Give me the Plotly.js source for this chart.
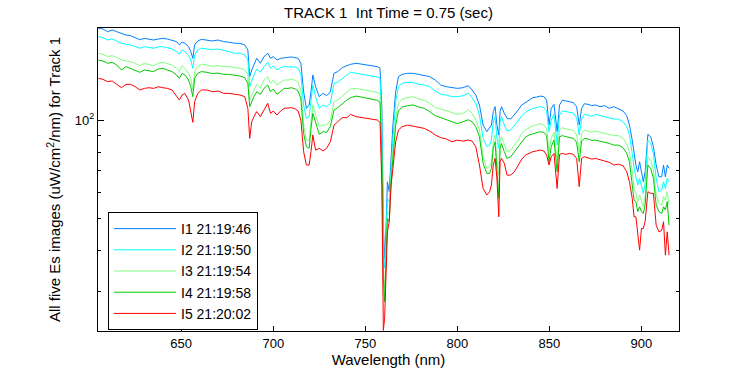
<!DOCTYPE html>
<html>
<head>
<meta charset="utf-8">
<script src="https://cdn.plot.ly/plotly-3.0.1.min.js"></script>
<style>html,body{margin:0;padding:0;background:#fff;}#chart{width:750px;height:375px;}</style>
</head>
<body>
<div id="chart"></div>
<script>
const wavelength = [
605,607.5,610,612.5,615,617.5,620,622.5,625,627.5,630,632.5,635,637.5,640,642.5,645,647.5,649,650.5,652,654,655.2,656.3,657.3,659,661,664,667,670,673,
676,679,682,684.5,686.2,687.2,688.3,689.5,691,693,695,697,698.5,700,702,704,706,708,710,712,713.5,715,716.5,718,719.5,720.5,721.5,723,725,727,729,731,733,735,737.5,740,742,
745,748,751,754,756.5,758,759,759.8,760.5,761.2,762,763,764,765,766.5,768,770,773,776,779,782,785,788,791,794,797,800,803,806,808,810,812,
814,816,817.5,818.5,819.5,820.5,821.5,822.5,823.2,824,825.5,827,829,831,833,835,837,839,841,843,845,847,848.5,849.8,851,852.5,854.2,855.5,857,859,861,863,864.8,866.2,867.5,869,871,873,
875,877.5,880,882.5,885,887.5,890,892,893.5,895,896,897,898,899,900,901,902,903.5,905,906.5,908,909.5,911,912,913,914,915
];

const I1 = [
191.1,190.2,186.6,188.8,186.6,184.4,182.3,181.4,178.9,176.4,178.1,177.2,176.0,177.2,178.1,177.2,176.0,174.0,170.0,173.2,172.0,168.0,162.2,154.7,170.0,174.8,176.8,176.0,174.8,176.0,174.0,
173.2,172.0,172.0,170.0,164.1,136.0,142.5,147.6,154.7,149.4,156.6,160.3,154.7,156.6,152.9,154.7,155.5,155.8,156.2,155.8,154.7,149.4,122.3,108.8,111.4,122.3,137.6,126.7,118.1,120.9,118.9,122.3,139.2,140.9,144.9,146.9,148.3,
149.4,148.3,147.6,146.9,145.9,144.2,108.8,47.8,37.8,45.6,64.9,60.5,76.5,96.7,122.3,136.0,138.2,139.2,139.2,138.2,137.6,136.0,132.8,128.2,126.7,125.8,125.2,125.8,127.6,123.8,119.5,111.4,
96.7,92.3,94.5,96.7,106.3,110.1,96.7,90.2,106.3,110.1,105.0,101.4,100.9,103.8,107.5,111.4,113.5,115.4,117.3,117.8,118.6,118.1,115.4,96.7,108.8,111.9,92.3,111.4,115.1,114.6,114.0,113.2,110.1,96.7,108.8,112.4,111.9,110.9,
111.4,110.1,110.9,108.8,110.1,108.3,106.8,103.3,96.7,87.0,78.3,73.0,69.6,74.7,69.6,64.9,69.6,90.6,89.1,83.1,73.0,67.2,67.2,73.0,67.2,73.0,71.3
];

const I2 = [
180.2,178.9,176.0,177.2,174.8,172.0,170.8,170.0,168.0,166.0,168.0,166.8,166.0,167.6,168.0,166.8,165.2,162.2,159.2,164.1,162.2,157.7,152.9,144.2,158.4,164.1,166.0,165.2,164.5,165.2,164.1,
162.2,160.3,160.3,158.4,152.9,126.7,132.8,137.6,143.5,140.2,145.9,150.4,144.2,146.9,142.5,144.9,145.9,145.9,146.2,145.5,144.2,138.2,111.4,101.4,102.6,114.0,128.2,118.1,108.8,111.4,110.1,112.7,129.7,130.7,134.4,137.6,140.2,
139.2,138.2,137.6,136.6,135.7,134.4,96.7,42.5,35.3,42.5,57.7,56.4,73.0,88.1,114.0,126.7,129.7,130.7,130.4,128.8,128.2,126.7,122.9,120.1,119.5,118.1,118.1,118.9,120.9,117.3,112.7,103.8,
88.1,83.1,84.0,87.0,99.0,102.6,88.1,82.1,99.0,102.6,96.7,92.7,93.4,96.3,99.5,103.3,105.8,107.5,108.8,109.3,110.1,109.3,106.8,92.3,100.2,104.3,84.0,103.8,106.8,106.3,105.8,105.3,101.9,90.2,100.9,104.3,103.8,102.8,
104.3,103.3,102.6,101.4,100.9,100.9,99.0,95.6,90.2,79.2,71.3,67.2,63.4,66.5,63.4,59.8,64.2,87.0,85.0,79.2,66.5,60.5,61.2,64.9,61.9,66.5,64.9
];

const I3 = [
160.3,159.2,156.6,157.7,155.5,152.9,151.8,151.1,149.4,146.9,149.4,148.3,146.9,149.4,150.4,149.0,147.6,144.2,140.9,146.9,144.2,139.2,134.4,123.8,140.9,145.9,148.3,147.6,146.2,146.9,145.9,
145.9,144.9,144.2,142.5,137.6,115.4,119.5,123.8,128.8,125.8,132.8,136.0,129.7,132.8,128.2,130.7,132.8,132.8,133.4,132.5,130.7,123.8,96.7,87.0,87.0,99.0,111.4,103.8,95.6,96.7,96.7,100.2,114.0,115.4,118.9,122.3,124.6,
125.2,124.3,123.5,122.9,121.7,120.1,80.2,36.1,30.6,37.8,52.6,51.3,68.0,80.2,101.4,112.7,116.2,117.3,118.1,116.2,115.1,112.7,109.3,108.3,106.8,105.8,104.3,105.0,107.5,105.0,100.2,93.4,
77.4,71.3,72.1,74.7,86.0,90.2,74.7,68.0,86.0,89.1,84.0,80.2,81.1,84.0,87.0,91.2,93.4,94.9,96.3,96.7,97.7,96.7,94.5,80.2,88.1,91.9,74.7,93.4,94.9,94.1,93.4,93.2,90.2,80.2,91.2,93.4,92.7,91.9,
92.7,91.9,91.0,90.2,89.8,89.8,88.1,85.0,80.2,69.6,61.9,59.8,56.4,59.1,56.4,54.4,58.4,77.4,75.6,70.5,59.1,55.7,55.1,58.4,57.0,60.5,55.1
];

const I4 = [
152.9,151.8,149.4,150.4,147.6,142.5,145.9,144.2,142.5,140.2,142.5,141.5,140.9,143.5,144.2,142.5,140.9,137.6,134.4,139.2,137.6,132.8,126.7,118.1,134.4,139.2,140.9,140.2,138.9,139.5,138.2,
138.2,137.6,136.6,135.0,129.7,110.1,114.0,118.1,122.3,120.1,125.2,128.2,122.3,124.6,120.1,122.9,125.2,125.2,125.8,124.6,122.9,116.2,91.2,83.1,82.1,94.5,105.0,98.6,90.6,92.3,91.9,95.6,107.5,109.3,112.7,115.4,117.3,
118.6,117.8,116.7,116.2,115.1,113.5,76.5,32.9,27.9,36.1,50.1,49.0,64.9,76.5,96.7,106.8,109.8,110.9,111.4,109.8,108.8,106.3,103.3,101.9,100.4,99.0,97.7,99.0,100.4,99.0,95.6,89.1,
73.9,68.8,68.8,71.3,82.1,86.0,71.3,57.7,82.1,85.0,80.2,76.5,77.4,80.2,83.1,86.4,88.9,90.2,91.0,91.9,92.3,91.9,89.8,74.7,83.1,87.0,69.6,89.1,89.8,89.1,88.5,88.1,85.6,74.7,86.4,88.1,87.7,86.8,
87.0,86.4,85.6,85.0,84.0,84.0,82.5,79.2,74.7,64.9,57.0,56.4,52.6,54.4,52.6,51.9,55.1,73.0,71.3,66.5,55.1,52.6,51.9,54.4,53.2,56.4,47.8
];

const I5 = [
134.4,133.4,131.3,131.9,128.8,125.8,128.8,128.8,126.7,123.8,125.2,125.8,125.2,126.7,125.8,125.2,123.8,118.1,115.4,119.5,120.9,115.4,107.5,98.6,114.0,120.9,123.8,123.8,122.3,122.9,120.9,
120.9,120.1,119.5,118.1,108.8,88.1,99.0,102.6,106.3,102.6,107.5,112.7,105.0,106.8,103.8,106.8,108.8,109.3,109.3,108.3,106.8,100.2,80.2,73.0,73.0,80.2,90.2,81.1,82.1,80.6,82.1,86.0,96.7,99.0,101.9,101.9,104.3,
102.6,101.9,101.4,100.9,100.2,98.6,63.4,22.8,24.8,32.9,45.6,49.0,63.4,71.3,86.0,93.4,95.6,96.7,95.8,95.4,94.5,92.7,90.2,88.5,87.7,86.0,87.0,86.4,87.0,86.4,83.1,73.0,
61.9,59.1,60.5,63.4,73.0,76.5,66.5,50.7,74.7,76.5,73.9,68.0,68.0,69.6,73.0,76.1,78.3,79.2,80.2,80.6,81.1,80.6,78.3,73.0,77.4,79.2,61.9,78.7,79.2,78.7,79.2,78.7,76.5,62.7,76.5,77.4,76.9,76.1,
76.5,75.6,75.1,74.4,73.0,73.4,72.7,69.6,64.9,57.7,50.7,50.7,45.6,40.1,46.7,46.7,49.0,60.5,59.8,59.8,47.8,45.6,46.1,49.0,38.7,45.6,38.7
];

const seriesNames = ['I1 21:19:46', 'I2 21:19:50', 'I3 21:19:54', 'I4 21:19:58', 'I5 21:20:02'];
const seriesColors = ['#0080ff', '#00ffff', '#80ff80', '#00c800', '#ff0000'];
const seriesValues = [I1, I2, I3, I4, I5];

const xTickVals = [650, 700, 750, 800, 850, 900];
const yTickVals = [100];
const yTickText = ['10<sup>2</sup>'];
const yMinorVals = [30, 40, 50, 60, 70, 80, 90];

const FONT = 'Liberation Sans, Arial, Helvetica, sans-serif';

const traces = seriesValues.map((vals, i) => ({
  type: 'scatter', mode: 'lines',
  x: wavelength, y: vals,
  name: seriesNames[i],
  line: {color: seriesColors[i], width: 1}
}));

const layout = {
  width: 750, height: 375,
  margin: {l: 98, r: 71, t: 28, b: 44, pad: 0},
  paper_bgcolor: '#fff', plot_bgcolor: '#fff',
  font: {family: FONT, color: '#000', size: 13},
  title: {text: 'TRACK 1\u00a0 Int Time = 0.75 (sec)', font: {family: FONT, size: 15, color: '#000'},
          x: 0.5, xref: 'paper', xanchor: 'center', y: 0.967, yref: 'container', yanchor: 'middle'},
  xaxis: {
    range: [604.8, 920.4], tickvals: xTickVals, ticks: 'inside', ticklen: 5, tickcolor: '#000',
    showline: true, linecolor: '#000', linewidth: 1, mirror: 'ticks',
    showgrid: false, zeroline: false, tickfont: {size: 13},
    title: {text: 'Wavelength (nm)', font: {size: 15}, standoff: 4}
  },
  yaxis: {
    type: 'log', range: [1.356, 2.2822], tickvals: yTickVals, ticktext: yTickText,
    ticks: 'inside', ticklen: 6, tickcolor: '#000',
    minor: {tickvals: yMinorVals, ticks: 'inside', ticklen: 3, tickcolor: '#000', showgrid: false},
    showline: true, linecolor: '#000', linewidth: 1, mirror: 'ticks',
    showgrid: false, zeroline: false, tickfont: {size: 13},
    title: {text: 'All five Es images (uW/cm<sup>2</sup>/nm) for Track 1', font: {size: 15}, standoff: 10}
  },
  showlegend: true,
  legend: {
    x: 0.0172, y: 0.3927, xanchor: 'left', yanchor: 'top',
    bgcolor: '#fff', bordercolor: '#000', borderwidth: 1,
    font: {size: 14, family: FONT}, itemwidth: 62, tracegroupgap: 0
  }
};

Plotly.newPlot('chart', traces, layout, {displayModeBar: false, staticPlot: true});
</script>
</body>
</html>
